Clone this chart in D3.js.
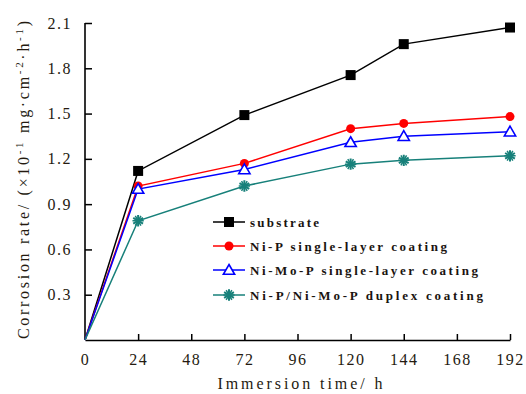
<!DOCTYPE html>
<html><head><meta charset="utf-8">
<script src="https://cdn.jsdelivr.net/npm/d3@7"></script>
<style>body{margin:0;background:#fff}svg{display:block}svg text{font-family:"Liberation Serif","DejaVu Serif",serif}</style>
</head><body><svg id="c" width="526" height="394"></svg>
<script>
const times = [0, 24, 72, 120, 144, 192];
const substrate = [0, 1.12, 1.49, 1.755, 1.96, 2.07];
const niP = [0, 1.02, 1.17, 1.40, 1.435, 1.48];
const niMoP = [0, 1.00, 1.13, 1.31, 1.35, 1.38];
const duplex = [0, 0.79, 1.02, 1.165, 1.19, 1.22];
const seriesNames = ["substrate", "Ni-P single-layer coating", "Ni-Mo-P single-layer coating", "Ni-P/Ni-Mo-P duplex coating"];
const xTicks = [0, 24, 48, 72, 96, 120, 144, 168, 192];
const yTicks = [0.3, 0.6, 0.9, 1.2, 1.5, 1.8, 2.1];

const svg = d3.select("#c");
const x = d3.scaleLinear().domain([0, 192]).range([85, 510]);
const y = d3.scaleLinear().domain([0, 2.1]).range([340, 23]);
const font = "Liberation Serif";
const txtCol = "#241a10";

// axes
const xAx = svg.append("g").attr("transform", "translate(0,340)")
  .call(d3.axisBottom(x).tickValues(xTicks).tickSize(-6).tickPadding(14).tickSizeOuter(0));
const yAx = svg.append("g").attr("transform", "translate(85,0)")
  .call(d3.axisLeft(y).tickValues(yTicks).tickSize(-7).tickPadding(13).tickSizeOuter(0).tickFormat(d3.format(".1f")));
[xAx, yAx].forEach(g => {
  g.attr("font-family", font);
  g.select(".domain").attr("stroke", "#000").attr("stroke-width", 1.6);
  g.selectAll(".tick line").attr("stroke", "#000").attr("stroke-width", 1.5);
  g.selectAll(".tick text").style("font-family", font).attr("font-size", 16).attr("fill", txtCol).attr("letter-spacing", 1.5);
});
xAx.selectAll(".tick").filter(d => d === 0).select("line").remove();
yAx.select(".domain").attr("d", `M0,${y(2.1)}V${y(0)}`);

// titles
svg.append("text").attr("x", 300).attr("y", 389).attr("text-anchor", "middle")
  .style("font-family", font).attr("font-size", 16).attr("fill", txtCol)
  .attr("textLength", 165).attr("lengthAdjust", "spacing").text("Immersion time/ h");

const yt = svg.append("text").attr("transform", "translate(29,180) rotate(-90)").attr("text-anchor", "middle")
  .style("font-family", font).attr("font-size", 16).attr("fill", txtCol);
yt.append("tspan").text("Corrosion rate/ (×10");
yt.append("tspan").attr("dy", -6).attr("font-size", 11).text("-1");
yt.append("tspan").attr("dy", 6).text(" mg·cm");
yt.append("tspan").attr("dy", -6).attr("font-size", 11).text("-2");
yt.append("tspan").attr("dy", 6).text("·h");
yt.append("tspan").attr("dy", -6).attr("font-size", 11).text("-1");
yt.append("tspan").attr("dy", 6).text(")");
yt.attr("textLength", 318).attr("lengthAdjust", "spacing");

// series
const data = [substrate, niP, niMoP, duplex];
const colors = ["#000000", "#ff0000", "#0000ff", "#17807a"];
const line = d3.line().x((d, i) => x(times[i])).y(d => y(d));
data.forEach((vals, k) => {
  svg.append("path").datum(vals).attr("d", line).attr("fill", "none")
    .attr("stroke", colors[k]).attr("stroke-width", 1.5);
});

function marker(g, k, cx, cy) {
  const c = colors[k];
  if (k === 0) {
    g.append("rect").attr("x", cx - 5).attr("y", cy - 5).attr("width", 10).attr("height", 10).attr("fill", c);
  } else if (k === 1) {
    g.append("circle").attr("cx", cx).attr("cy", cy).attr("r", 4.5).attr("fill", c);
  } else if (k === 2) {
    g.append("path").attr("d", d3.symbol(d3.symbolTriangle, 55)()).attr("transform", `translate(${cx},${cy+1})`)
      .attr("fill", "#fff").attr("stroke", c).attr("stroke-width", 1.6);
  } else {
    g.append("path").attr("d", d3.symbol(d3.symbolAsterisk, 90)()).attr("transform", `translate(${cx},${cy})`)
      .attr("fill", "none").attr("stroke", c).attr("stroke-width", 2);
    g.append("path").attr("d", d3.symbol(d3.symbolAsterisk, 90)()).attr("transform", `translate(${cx},${cy}) rotate(30)`)
      .attr("fill", "none").attr("stroke", c).attr("stroke-width", 1.5);
  }
}
data.forEach((vals, k) => {
  const g = svg.append("g");
  vals.forEach((v, i) => { if (i > 0) marker(g, k, x(times[i]), y(v)); });
});

// legend
const lenW = [69, 197, 228, 233];
const legY = [222, 246, 270, 295];
seriesNames.forEach((n, k) => {
  const g = svg.append("g");
  g.append("line").attr("x1", 213).attr("x2", 245).attr("y1", legY[k]).attr("y2", legY[k])
    .attr("stroke", colors[k]).attr("stroke-width", 1.5);
  marker(g, k, 229, legY[k]);
  g.append("text").attr("x", 250).attr("y", legY[k] + 4.5).style("font-family", font)
    .attr("font-size", 13).attr("font-weight", "bold").attr("fill", "#1a1410")
    .attr("textLength", lenW[k]).attr("lengthAdjust", "spacing").text(n);
});
</script></body></html>
